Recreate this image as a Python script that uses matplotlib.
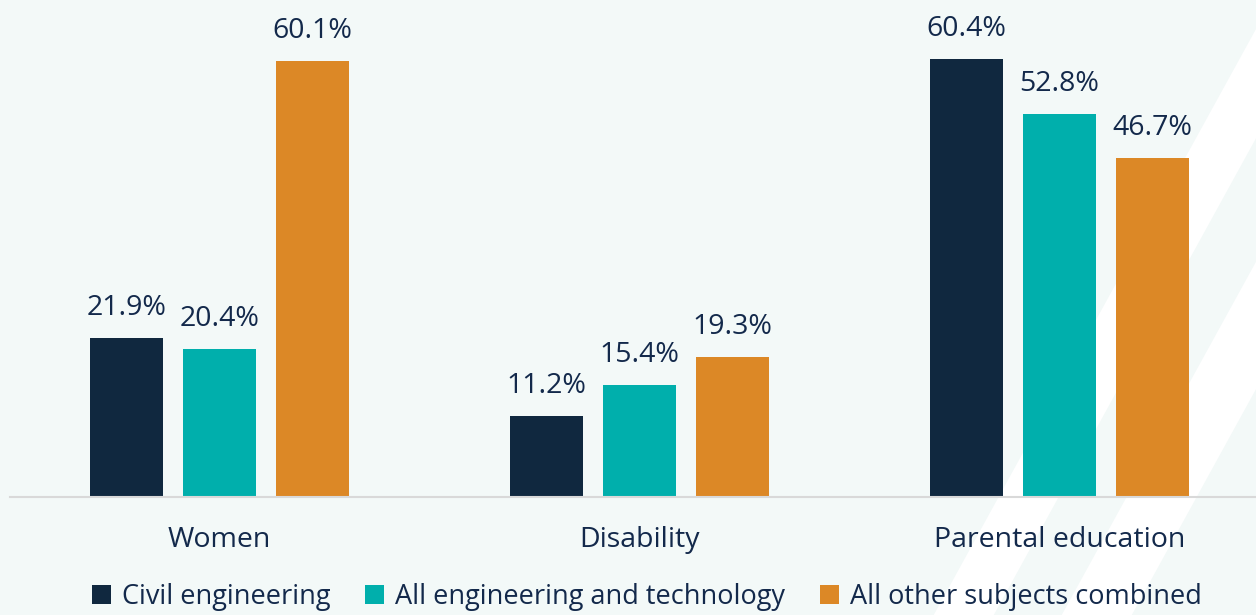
import numpy as np
import matplotlib.pyplot as plt
from matplotlib.patches import Polygon

# Data
categories = ['Women', 'Disability', 'Parental education']
series_names = ['Civil engineering', 'All engineering and technology', 'All other subjects combined']
civil = [21.9, 11.2, 60.4]
all_eng = [20.4, 15.4, 52.8]
other = [60.1, 19.3, 46.7]

colors = ['#10283F', '#00AFAC', '#DC8826']
text_color = '#13294B'
bg = '#F3F9F8'

plt.rcParams['font.family'] = ['Open Sans', 'DejaVu Sans']

W, H = 1256, 615
fig = plt.figure(figsize=(W / 100, H / 100), dpi=100, facecolor=bg)

# decorative white diagonal stripes (pixel coords -> figure fraction)
def stripe(x_top, width, slope=0.55):
    pts = [(x_top, 0), (x_top + width, 0),
           (x_top + width - slope * H, H), (x_top - slope * H, H)]
    return Polygon([(x / W, 1 - y / H) for x, y in pts], closed=True,
                   transform=fig.transFigure, facecolor='white',
                   edgecolor='none', zorder=-5)

fig.patches.append(stripe(1272, 60))
fig.patches.append(stripe(1400, 70))

ax = fig.add_axes([10 / W, 118 / H, 1 - 10 / W, 497 / H])
ax.patch.set_visible(False)

x = np.arange(len(categories))
width = 0.174
step = 0.2215
for i, (vals, name) in enumerate(zip([civil, all_eng, other], series_names)):
    bars = ax.bar(x + (i - 1) * step, vals, width, color=colors[i], label=name, zorder=2)
    for b, v in zip(bars, vals):
        ax.text(b.get_x() + b.get_width() / 2, v + 2.2, f'{v:.1f}%',
                ha='center', va='bottom', fontsize=20.5, color=text_color)

ax.set_xlim(-0.499, 2.468)
ax.set_ylim(0, 68.5)
ax.set_xticks(x)
ax.set_xticklabels(categories, fontsize=20.5, color=text_color)
ax.tick_params(axis='x', length=0, pad=21)
ax.set_yticks([])
for s in ['top', 'right', 'left']:
    ax.spines[s].set_visible(False)
ax.spines['bottom'].set_color('#D9D9D9')
ax.spines['bottom'].set_linewidth(1.5)

leg = fig.legend(loc='center', bbox_to_anchor=(0.515, 0.03), ncol=3, frameon=False,
                 fontsize=19.5, handlelength=0.7, handleheight=0.7,
                 handletextpad=0.4, columnspacing=1.3)
for t in leg.get_texts():
    t.set_color(text_color)

fig.savefig('out.png', dpi=100, facecolor=bg)
